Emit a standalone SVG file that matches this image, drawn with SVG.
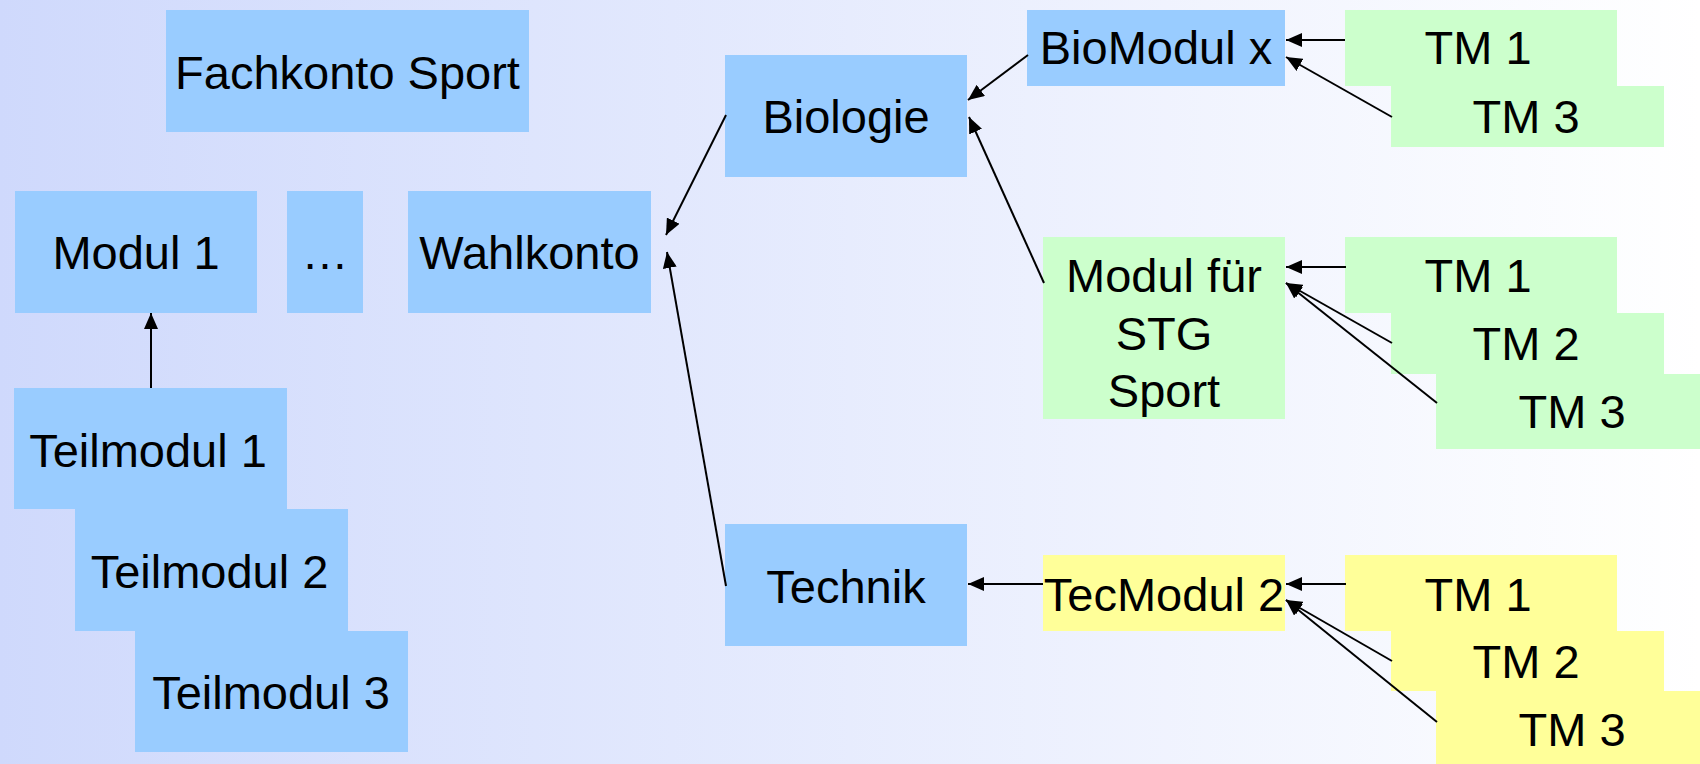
<svg xmlns="http://www.w3.org/2000/svg" width="1700" height="764" viewBox="0 0 1700 764">
  <defs>
    <linearGradient id="bg" x1="0" y1="0" x2="1" y2="0">
      <stop offset="0" stop-color="#CFD9FC"/>
      <stop offset="1" stop-color="#FFFFFF"/>
    </linearGradient>
    <marker id="arrow" viewBox="0 0 16 14" refX="16" refY="7" markerWidth="16" markerHeight="14" markerUnits="userSpaceOnUse" orient="auto">
      <path d="M0,0 L16,7 L0,14 z" fill="#000"/>
    </marker>
    <style>
      .blue { fill: #99CCFF; }
      .green { fill: #CCFFCC; }
      .yellow { fill: #FFFF99; }
      text { font-family: "Liberation Sans", Arial, sans-serif; font-size: 47px; fill: #000; text-anchor: middle; }
      .edge { stroke: #000; stroke-width: 2; fill: none; marker-end: url(#arrow); }
    </style>
  </defs>

  <rect x="0" y="0" width="1700" height="764" fill="url(#bg)"/>

  <!-- Fachkonto column -->
  <g id="fachkonto">
    <rect class="blue" x="166" y="10" width="363" height="122"/>
    <text x="347.5" y="89">Fachkonto Sport</text>
  </g>
  <g id="modul1">
    <rect class="blue" x="15" y="191" width="242" height="122"/>
    <text x="136" y="269">Modul 1</text>
  </g>
  <g id="ellipsis">
    <rect class="blue" x="287" y="191" width="76" height="122"/>
    <text x="325" y="269">…</text>
  </g>
  <g id="wahlkonto">
    <rect class="blue" x="408" y="191" width="243" height="122"/>
    <text x="529.5" y="269">Wahlkonto</text>
  </g>
  <g id="teilmodul1">
    <rect class="blue" x="14" y="388" width="273" height="121"/>
    <text x="148" y="467">Teilmodul 1</text>
  </g>
  <g id="teilmodul2">
    <rect class="blue" x="75" y="509" width="273" height="122"/>
    <text x="209.5" y="588">Teilmodul 2</text>
  </g>
  <g id="teilmodul3">
    <rect class="blue" x="135" y="631" width="273" height="121"/>
    <text x="271" y="709">Teilmodul 3</text>
  </g>

  <!-- Wahlkonto branches -->
  <g id="biologie">
    <rect class="blue" x="725" y="55" width="242" height="122"/>
    <text x="846" y="133">Biologie</text>
  </g>
  <g id="technik">
    <rect class="blue" x="725" y="524" width="242" height="122"/>
    <text x="846" y="603">Technik</text>
  </g>

  <!-- Biologie modules -->
  <g id="biomodul-x">
    <rect class="blue" x="1027" y="10" width="258" height="76"/>
    <text x="1156" y="64">BioModul x</text>
  </g>
  <g id="bio-tm1">
    <rect class="green" x="1345" y="10" width="272" height="76"/>
    <text x="1478" y="64">TM 1</text>
  </g>
  <g id="bio-tm3">
    <rect class="green" x="1391" y="86" width="273" height="61"/>
    <text x="1526" y="133">TM 3</text>
  </g>

  <g id="modul-stg-sport">
    <rect class="green" x="1043" y="237" width="242" height="182"/>
    <text x="1164" y="292">Modul für</text>
    <text x="1164" y="350">STG</text>
    <text x="1164" y="407">Sport</text>
  </g>
  <g id="stg-tm1">
    <rect class="green" x="1345" y="237" width="272" height="76"/>
    <text x="1478" y="292">TM 1</text>
  </g>
  <g id="stg-tm2">
    <rect class="green" x="1391" y="313" width="273" height="61"/>
    <text x="1526" y="360">TM 2</text>
  </g>
  <g id="stg-tm3">
    <rect class="green" x="1436" y="374" width="274" height="75"/>
    <text x="1572" y="428">TM 3</text>
  </g>

  <!-- Technik modules -->
  <g id="tecmodul-2">
    <rect class="yellow" x="1043" y="555" width="242" height="76"/>
    <text x="1164" y="611">TecModul 2</text>
  </g>
  <g id="tec-tm1">
    <rect class="yellow" x="1345" y="555" width="272" height="76"/>
    <text x="1478" y="611">TM 1</text>
  </g>
  <g id="tec-tm2">
    <rect class="yellow" x="1391" y="631" width="273" height="60"/>
    <text x="1526" y="678">TM 2</text>
  </g>
  <g id="tec-tm3">
    <rect class="yellow" x="1436" y="691" width="274" height="73"/>
    <text x="1572" y="746">TM 3</text>
  </g>

  <!-- Connectors -->
  <g id="connectors">
    <line class="edge" x1="151" y1="388" x2="151" y2="313"/>
    <line class="edge" x1="726" y1="115" x2="666" y2="235"/>
    <line class="edge" x1="726" y1="586" x2="667" y2="252"/>
    <line class="edge" x1="1028" y1="55" x2="968" y2="100"/>
    <line class="edge" x1="1044" y1="283" x2="969" y2="117"/>
    <line class="edge" x1="1345" y1="40" x2="1286" y2="40"/>
    <line class="edge" x1="1392" y1="117" x2="1286" y2="57"/>
    <line class="edge" x1="1346" y1="267" x2="1286" y2="267"/>
    <line class="edge" x1="1392" y1="343" x2="1286" y2="283"/>
    <line class="edge" x1="1437" y1="403" x2="1286" y2="283"/>
    <line class="edge" x1="1043" y1="584" x2="968" y2="584"/>
    <line class="edge" x1="1346" y1="584" x2="1286" y2="584"/>
    <line class="edge" x1="1392" y1="661" x2="1286" y2="600"/>
    <line class="edge" x1="1437" y1="722" x2="1286" y2="600"/>
  </g>
</svg>
